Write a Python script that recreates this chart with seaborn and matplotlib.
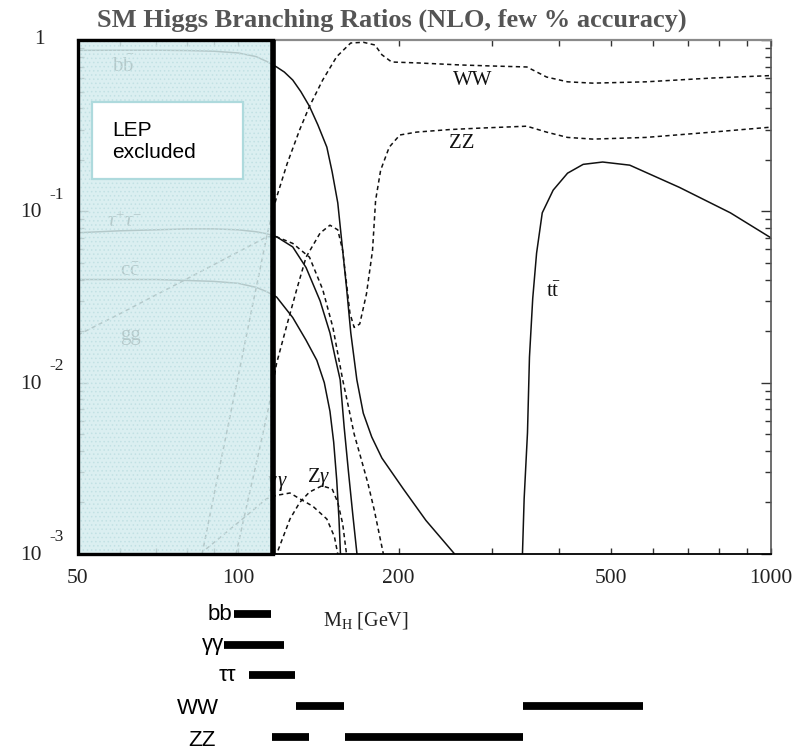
import matplotlib
matplotlib.use("Agg")
import numpy as np
import pandas as pd
import matplotlib.pyplot as plt
import seaborn as sns
from matplotlib.patches import Rectangle
from matplotlib.ticker import FixedLocator, NullFormatter

sns.set_style("white")
plt.rcParams["font.family"] = ["Liberation Serif", "DejaVu Serif"]
plt.rcParams["mathtext.fontset"] = "custom"
plt.rcParams["mathtext.rm"] = "Liberation Serif"
plt.rcParams["mathtext.it"] = "Liberation Serif:italic"
plt.rcParams["mathtext.bf"] = "Liberation Serif:bold"
plt.rcParams["hatch.linewidth"] = 0.6

# ---- branching ratios vs Higgs mass (GeV) ----
bb_mass = [50, 60, 70, 80, 90, 100, 108, 113, 118, 122, 126.5, 131, 136, 141, 146.6,
           150, 153.7, 156.5, 159.6, 162.6, 166.9, 171.6, 178, 186, 204, 225, 254, 262]
bb_br = [0.87, 0.872, 0.872, 0.868, 0.86, 0.84, 0.80, 0.75, 0.696, 0.65, 0.584, 0.50,
         0.41, 0.32, 0.237, 0.17, 0.112, 0.065, 0.036, 0.0195, 0.0104, 0.00664,
         0.00482, 0.00363, 0.0024, 0.00157, 0.00101, 0.00088]

tautau_mass = [50, 60, 70, 80, 90, 100, 108, 113, 118, 126.5, 134, 142.4, 148.6, 152,
               155.3, 158, 161, 164, 167, 169]
tautau_br = [0.075, 0.077, 0.078, 0.079, 0.079, 0.078, 0.076, 0.074, 0.071, 0.062,
             0.047, 0.030, 0.0195, 0.014, 0.0104, 0.0055, 0.003, 0.0017, 0.001, 0.0008]

cc_mass = [50, 60, 70, 80, 90, 100, 108, 113, 118, 126.5, 134, 140.4, 145, 148.6,
           151, 153, 154.5, 155.5, 156.5]
cc_br = [0.040, 0.040, 0.040, 0.0395, 0.039, 0.038, 0.036, 0.034, 0.0316, 0.024,
         0.0177, 0.0135, 0.0100, 0.0068, 0.0045, 0.0027, 0.0016, 0.001, 0.0007]

gg_mass = [50, 60, 70, 80, 90, 100, 108, 113, 118, 126.5, 136, 144, 150.5, 157, 161,
           165, 170, 175, 180, 186, 190]
gg_br = [0.019, 0.0253, 0.0325, 0.0403, 0.0489, 0.058, 0.0658, 0.071, 0.071, 0.065,
         0.054, 0.035, 0.021, 0.0104, 0.0072, 0.0050, 0.0036, 0.0026, 0.0018, 0.0011,
         0.0008]

ww_mass = [85.5, 92, 100, 106, 110, 113, 116, 118, 123.5, 130.4, 136, 144, 153, 162.5,
           171.6, 180.5, 186, 194, 219, 261, 300, 348, 360, 379, 415, 463, 582, 776, 1000]
ww_br = [0.001, 0.0031, 0.011, 0.027, 0.047, 0.071, 0.10, 0.121, 0.19, 0.30, 0.41,
         0.584, 0.80, 0.96, 0.97, 0.935, 0.82, 0.744, 0.734, 0.715, 0.705, 0.696, 0.66,
         0.608, 0.57, 0.56, 0.57, 0.60, 0.62]

zz_mass = [99, 104, 109, 114, 118, 123.5, 128.7, 134, 142.4, 148.6, 153.7, 157, 159.6,
           162, 165, 169, 174, 178.6, 181, 185, 192, 201, 216, 249, 284, 348, 379, 415,
           463, 582, 776, 1000]
zz_br = [0.001, 0.0020, 0.0038, 0.0072, 0.013, 0.022, 0.035, 0.054, 0.0747, 0.083,
         0.078, 0.059, 0.038, 0.0254, 0.021, 0.022, 0.033, 0.059, 0.116, 0.174, 0.237,
         0.279, 0.29, 0.30, 0.306, 0.314, 0.29, 0.27, 0.264, 0.27, 0.29, 0.31]

tt_mass = [340.5, 341.5, 344, 349, 352, 357, 363, 372, 390, 415, 444, 483, 543, 673,
           839, 1000]
tt_br = [0.0008, 0.001, 0.0021, 0.0051, 0.0141, 0.031, 0.057, 0.098, 0.133, 0.167,
         0.188, 0.194, 0.186, 0.138, 0.098, 0.070]

gamgam_mass = [87, 95, 103, 110, 113, 118, 125, 130.4, 138, 146.6, 151.5, 153.7, 155]
gamgam_br = [0.00107, 0.00134, 0.00165, 0.00196, 0.0021, 0.0022, 0.00227, 0.0021,
             0.0019, 0.0016, 0.00126, 0.001, 0.0009]

zgam_mass = [116.5, 118, 125, 130.4, 136, 143.5, 150, 153.7, 157, 159.6, 161]
zgam_br = [0.0007, 0.001, 0.0016, 0.002, 0.0023, 0.0025, 0.0024, 0.002, 0.0015, 0.001,
           0.0008]

lep_limit = 116.0

# ---- discovery-channel mass ranges (GeV) ----
range_channel = ["bb", "γγ", "ττ", "WW", "WW", "ZZ", "ZZ"]
range_row = [0, 1, 2, 3, 3, 4, 4]
range_start = [98.0, 94.1, 104.5, 128.2, 343.0, 115.5, 158.3]
range_end = [115.4, 121.8, 128.0, 157.6, 576.0, 135.5, 342.0]

x_major = [50, 100, 200, 500, 1000]
x_minor = [60, 70, 80, 90, 300, 400, 600, 700, 800, 900]
y_decades = [0, -1, -2, -3]

curves = [
    (bb_mass, bb_br, "solid"),
    (tautau_mass, tautau_br, "solid"),
    (cc_mass, cc_br, "solid"),
    (tt_mass, tt_br, "solid"),
    (gg_mass, gg_br, "dashed"),
    (ww_mass, ww_br, "dashed"),
    (zz_mass, zz_br, "dashed"),
    (gamgam_mass, gamgam_br, "dashed"),
    (zgam_mass, zgam_br, "dashed"),
]

W, H = 808, 752
fig = plt.figure(figsize=(W / 100, H / 100), dpi=100)
fig.patch.set_facecolor("white")

ax = fig.add_axes([78 / W, 1 - 554 / H, 693 / W, 514 / H])
ax.set_xscale("log")
ax.set_yscale("log")

dash = (0, (2.8, 2.2))
for m, br, kind in curves:
    df = pd.DataFrame({"mass": m, "br": br})
    sns.lineplot(data=df, x="mass", y="br", ax=ax, color="#111111", lw=1.1,
                 estimator=None, sort=False, legend=False, zorder=2,
                 linestyle="-" if kind == "solid" else dash)

ax.set_xlim(50, 1000)
ax.set_ylim(1e-3, 1)

# channel labels
lab = dict(color="#111111", fontsize=15, ha="center", va="center", zorder=2.2)
ax.text(275, 0.584, "WW", **lab)
ax.text(263, 0.25, "ZZ", **lab)
ax.text(391, 0.0338, r"t$\bar{\rm t}$", **lab)
ax.text(141.5, 0.0028, r"Z$\gamma$", **lab)
ax.text(124.0, 0.00258, r"$\gamma\,\gamma$", color="#111111", fontsize=15,
        ha="right", va="center", zorder=2.2)
ax.text(60.9, 0.70, r"b$\bar{\rm b}$", **lab)
ax.text(61.2, 0.0865, r"$\tau^{+}\tau^{-}$", **lab)
ax.text(62.6, 0.0447, r"c$\bar{\rm c}$", **lab)
ax.text(62.8, 0.0189, "gg", **lab)

# LEP excluded region
ax.axvspan(50, lep_limit, facecolor="#d5edef", alpha=0.84, lw=0, zorder=3)
ax.axvspan(50, lep_limit, facecolor="none", edgecolor="#c2e1e4", hatch="....",
           lw=0, zorder=3.1)
ax.add_patch(Rectangle((50, 1e-3), lep_limit - 50, 1 - 1e-3, fill=False,
                       ec="black", lw=2.4, zorder=4, clip_on=False))
ax.plot([lep_limit, lep_limit], [1e-3, 1], color="black", lw=4, zorder=4,
        solid_capstyle="butt", clip_on=False)
ax.add_patch(Rectangle((0.0202, 0.7296), 0.2179, 0.1498, transform=ax.transAxes,
                       facecolor="white", ec="#aedadd", lw=1.6, zorder=5))
ax.text(0.049, 0.803, "LEP\nexcluded", transform=ax.transAxes, fontsize=15,
        family="Liberation Sans", ha="left", va="center", linespacing=1.2,
        color="black", zorder=6)

# frame and ticks
ax.set_axisbelow(True)
for side in ["top", "right", "bottom", "left"]:
    ax.spines[side].set_visible(True)
ax.spines["top"].set_color("#8a8a8a")
ax.spines["top"].set_linewidth(1.6)
ax.spines["right"].set_color("#555555")
ax.spines["right"].set_linewidth(1.2)
ax.spines["bottom"].set_color("black")
ax.spines["bottom"].set_linewidth(1.3)

ax.xaxis.set_major_locator(FixedLocator(x_major))
ax.xaxis.set_minor_locator(FixedLocator(x_minor))
ax.set_xticklabels([str(v) for v in x_major])
ax.xaxis.set_minor_formatter(NullFormatter())
ax.tick_params(axis="x", which="both", direction="in", top=True, bottom=True,
               length=4, width=1, color="#333333", labelsize=15.5, pad=11,
               labelcolor="#222222")
ax.set_yticks([10.0 ** k for k in y_decades])
ax.yaxis.set_minor_locator(FixedLocator(
    [d * 10.0 ** k for k in [-3, -2, -1] for d in range(2, 10)]))
ax.yaxis.set_minor_formatter(NullFormatter())
ax.set_yticklabels([])
ax.tick_params(axis="y", which="major", direction="in", left=True, right=True,
               length=7, width=1, color="#333333")
ax.tick_params(axis="y", which="minor", direction="in", left=True, right=True,
               length=4, width=1, color="#333333")

for k in y_decades:
    yv = 10.0 ** k
    if k == 0:
        ax.annotate("1", xy=(0, yv), xycoords=("axes fraction", "data"),
                    xytext=(-24, 0), textcoords="offset points", ha="right",
                    va="center", fontsize=15.5, color="#222222")
    else:
        ax.annotate("10", xy=(0, yv), xycoords=("axes fraction", "data"),
                    xytext=(-26, -1), textcoords="offset points", ha="right",
                    va="center", fontsize=15.5, color="#222222")
        ax.annotate(str(k), xy=(0, yv), xycoords=("axes fraction", "data"),
                    xytext=(-20.5, 12), textcoords="offset points", ha="left",
                    va="center", fontsize=12.5, color="#222222")

ax.set_xlabel(r"M$_{\rm H}$ [GeV]", fontsize=14.5, color="#222222")
ax.xaxis.set_label_coords((366 - 78) / 693, -0.108)
ax.set_ylabel("")

fig.text(392 / W, 1 - 20 / H, "SM Higgs Branching Ratios (NLO, few % accuracy)",
         ha="center", va="center", fontsize=19, fontweight="bold", color="#555555")

# ---- mass-range bars below the main panel ----
ax2 = fig.add_axes([78 / W, 0, 693 / W, 1 - 598.75 / H])
ax2.set_xscale("log")
ax2.set_xlim(50, 1000)
ax2.set_ylim(4.5, -0.5)
ax2.axis("off")
ax2.hlines(range_row, range_start, range_end, color="black", lw=5.6,
           capstyle="butt")

sans = dict(family="Liberation Sans", fontsize=16, color="black", va="center")
ax2.text(97.3, 0.0, "bb", ha="right", **sans)
ax2.text(94.1, 1.0, "γγ", ha="right", **sans)
ax2.text(99.2, 2.0, "ττ", ha="right", **sans)
ax2.text(84.0, 3.07, "WW", ha="center", **sans)
ax2.text(85.5, 4.13, "ZZ", ha="center", **sans)

fig.savefig("out.png", dpi=100, facecolor="white")
